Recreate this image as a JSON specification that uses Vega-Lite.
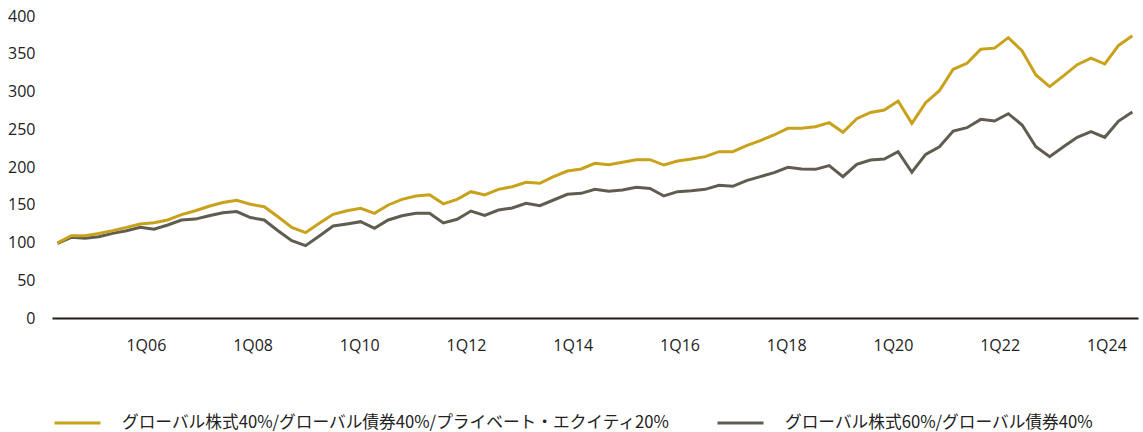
{
  "$schema": "https://vega.github.io/schema/vega-lite/v6.json",
  "autosize": "none",
  "width": 1086,
  "height": 302,
  "padding": {"left": 52, "top": 16, "right": 5, "bottom": 114},
  "background": "white",
  "config": {
    "view": {"stroke": null},
    "font": "Noto Sans CJK JP",
    "axis": {"labelFont": "Open Sans", "labelColor": "#222222", "labelFontSize": 16, "grid": false, "ticks": false, "title": null},
    "legend": {"labelFont": "Noto Sans CJK JP"}
  },
  "data": {
    "values": [
      {"q": 0, "quarter": "3Q04", "pe": 99.5, "base": 99},
      {"q": 1, "quarter": "4Q04", "pe": 109, "base": 106.9},
      {"q": 2, "quarter": "1Q05", "pe": 109, "base": 105.5},
      {"q": 3, "quarter": "2Q05", "pe": 112, "base": 107.7},
      {"q": 4, "quarter": "3Q05", "pe": 115.7, "base": 112.1},
      {"q": 5, "quarter": "4Q05", "pe": 120, "base": 115.6},
      {"q": 6, "quarter": "1Q06", "pe": 124.5, "base": 120.1},
      {"q": 7, "quarter": "2Q06", "pe": 126.3, "base": 117.5},
      {"q": 8, "quarter": "3Q06", "pe": 129.8, "base": 123.2},
      {"q": 9, "quarter": "4Q06", "pe": 137, "base": 129.8},
      {"q": 10, "quarter": "1Q07", "pe": 142, "base": 131},
      {"q": 11, "quarter": "2Q07", "pe": 148, "base": 135.5},
      {"q": 12, "quarter": "3Q07", "pe": 153, "base": 139.5},
      {"q": 13, "quarter": "4Q07", "pe": 156, "base": 141},
      {"q": 14, "quarter": "1Q08", "pe": 150.6, "base": 133},
      {"q": 15, "quarter": "2Q08", "pe": 147.4, "base": 129.8},
      {"q": 16, "quarter": "3Q08", "pe": 134, "base": 115.6},
      {"q": 17, "quarter": "4Q08", "pe": 120, "base": 102.4},
      {"q": 18, "quarter": "1Q09", "pe": 113, "base": 95.8},
      {"q": 19, "quarter": "2Q09", "pe": 125.4, "base": 108.6},
      {"q": 20, "quarter": "3Q09", "pe": 137.3, "base": 121.8},
      {"q": 21, "quarter": "4Q09", "pe": 142, "base": 124.5},
      {"q": 22, "quarter": "1Q10", "pe": 145.2, "base": 127.6},
      {"q": 23, "quarter": "2Q10", "pe": 138.6, "base": 118.8},
      {"q": 24, "quarter": "3Q10", "pe": 149.7, "base": 129.8},
      {"q": 25, "quarter": "4Q10", "pe": 157.2, "base": 135.5},
      {"q": 26, "quarter": "1Q11", "pe": 161.6, "base": 138.6},
      {"q": 27, "quarter": "2Q11", "pe": 163.3, "base": 138.6},
      {"q": 28, "quarter": "3Q11", "pe": 151.2, "base": 126},
      {"q": 29, "quarter": "4Q11", "pe": 157.2, "base": 130.7},
      {"q": 30, "quarter": "1Q12", "pe": 167.3, "base": 141.7},
      {"q": 31, "quarter": "2Q12", "pe": 162.9, "base": 136},
      {"q": 32, "quarter": "3Q12", "pe": 170.4, "base": 143},
      {"q": 33, "quarter": "4Q12", "pe": 173.9, "base": 145.7},
      {"q": 34, "quarter": "1Q13", "pe": 179.7, "base": 151.9},
      {"q": 35, "quarter": "2Q13", "pe": 178.4, "base": 148.8},
      {"q": 36, "quarter": "3Q13", "pe": 187.2, "base": 156.3},
      {"q": 37, "quarter": "4Q13", "pe": 194.7, "base": 163.8},
      {"q": 38, "quarter": "1Q14", "pe": 197.4, "base": 165.1},
      {"q": 39, "quarter": "2Q14", "pe": 204.9, "base": 170.4},
      {"q": 40, "quarter": "3Q14", "pe": 203.1, "base": 167.8},
      {"q": 41, "quarter": "4Q14", "pe": 206.2, "base": 169.5},
      {"q": 42, "quarter": "1Q15", "pe": 209.7, "base": 173.1},
      {"q": 43, "quarter": "2Q15", "pe": 209.7, "base": 171.5},
      {"q": 44, "quarter": "3Q15", "pe": 202.6, "base": 161.6},
      {"q": 45, "quarter": "4Q15", "pe": 208, "base": 167.3},
      {"q": 46, "quarter": "1Q16", "pe": 210.6, "base": 168.6},
      {"q": 47, "quarter": "2Q16", "pe": 213.7, "base": 170.4},
      {"q": 48, "quarter": "3Q16", "pe": 220.3, "base": 175.8},
      {"q": 49, "quarter": "4Q16", "pe": 220.3, "base": 174.4},
      {"q": 50, "quarter": "1Q17", "pe": 228.2, "base": 181.9},
      {"q": 51, "quarter": "2Q17", "pe": 234.9, "base": 187.2},
      {"q": 52, "quarter": "3Q17", "pe": 242.4, "base": 192.5},
      {"q": 53, "quarter": "4Q17", "pe": 251.2, "base": 199.6},
      {"q": 54, "quarter": "1Q18", "pe": 251.2, "base": 197.4},
      {"q": 55, "quarter": "2Q18", "pe": 253.4, "base": 196.9},
      {"q": 56, "quarter": "3Q18", "pe": 258.7, "base": 201.8},
      {"q": 57, "quarter": "4Q18", "pe": 246, "base": 187.2},
      {"q": 58, "quarter": "1Q19", "pe": 264, "base": 203.6},
      {"q": 59, "quarter": "2Q19", "pe": 272.2, "base": 209.3},
      {"q": 60, "quarter": "3Q19", "pe": 275.5, "base": 210.6},
      {"q": 61, "quarter": "4Q19", "pe": 287.4, "base": 220.3},
      {"q": 62, "quarter": "1Q20", "pe": 257.8, "base": 193},
      {"q": 63, "quarter": "2Q20", "pe": 285.2, "base": 216.8},
      {"q": 64, "quarter": "3Q20", "pe": 301.1, "base": 226.9},
      {"q": 65, "quarter": "4Q20", "pe": 329.4, "base": 247.7},
      {"q": 66, "quarter": "1Q21", "pe": 337.3, "base": 252.1},
      {"q": 67, "quarter": "2Q21", "pe": 355.9, "base": 263.1},
      {"q": 68, "quarter": "3Q21", "pe": 357.4, "base": 260.9},
      {"q": 69, "quarter": "4Q21", "pe": 371.3, "base": 270.6},
      {"q": 70, "quarter": "1Q22", "pe": 353.8, "base": 255.6},
      {"q": 71, "quarter": "2Q22", "pe": 321.9, "base": 226.9},
      {"q": 72, "quarter": "3Q22", "pe": 306.4, "base": 213.7},
      {"q": 73, "quarter": "4Q22", "pe": 320.7, "base": 226.9},
      {"q": 74, "quarter": "1Q23", "pe": 335.5, "base": 239.3},
      {"q": 75, "quarter": "2Q23", "pe": 344.3, "base": 246.8},
      {"q": 76, "quarter": "3Q23", "pe": 336.4, "base": 239.3},
      {"q": 77, "quarter": "4Q23", "pe": 361, "base": 260.9},
      {"q": 78, "quarter": "1Q24", "pe": 373.7, "base": 272.8}
    ]
  },
  "transform": [
    {"fold": ["base", "pe"], "as": ["key", "value"]},
    {"lookup": "key", "from": {"data": {"values": [
      {"key": "pe", "series": "グローバル株式40%/グローバル債券40%/プライベート・エクイティ20%"},
      {"key": "base", "series": "グローバル株式60%/グローバル債券40%"}
    ]}, "key": "key", "fields": ["series"]}}
  ],
  "mark": {"type": "line", "strokeWidth": 3, "strokeJoin": "miter"},
  "encoding": {
    "x": {
      "field": "q", "type": "quantitative",
      "scale": {"domain": [-0.4, 78.41], "nice": false, "zero": false},
      "axis": {
        "values": [6.41, 14.155, 21.9, 29.645, 37.39, 45.135, 52.88, 60.625, 68.37, 76.115],
        "labelExpr": "'1Q' + ['06','08','10','12','14','16','18','20','22','24'][round((datum.value - 6.41) / 7.745)]",
        "domainColor": "#231c14", "domainWidth": 2,
        "labelPadding": 19, "labelFlush": false
      }
    },
    "y": {
      "field": "value", "type": "quantitative",
      "scale": {"domain": [0, 400], "nice": false},
      "axis": {"values": [0, 50, 100, 150, 200, 250, 300, 350, 400], "domain": false, "labelPadding": 17}
    },
    "color": {
      "field": "series", "type": "nominal",
      "scale": {
        "domain": ["グローバル株式40%/グローバル債券40%/プライベート・エクイティ20%", "グローバル株式60%/グローバル債券40%"],
        "range": ["#C9A21B", "#605C50"]
      },
      "legend": {
        "title": null, "orient": "none", "direction": "horizontal",
        "legendX": 1, "legendY": 382,
        "symbolType": "stroke", "symbolSize": 2116, "symbolStrokeWidth": 3,
        "labelFontSize": 16.7, "labelColor": "#222222", "labelOffset": 20,
        "columnPadding": 40, "padding": 0, "labelLimit": 0
      }
    },
    "order": {"field": "key", "type": "nominal", "sort": "ascending"}
  }
}
